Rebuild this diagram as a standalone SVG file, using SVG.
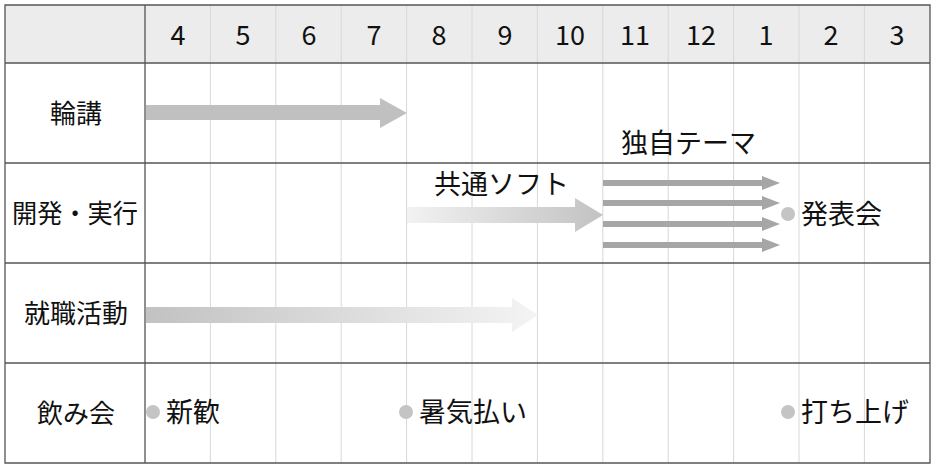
<svg xmlns="http://www.w3.org/2000/svg" width="934" height="468" viewBox="0 0 934 468">
<style>
text{font-family:"Noto Sans CJK JP","Noto Sans",sans-serif;font-size:27px;fill:#111}
.h{text-anchor:middle;font-size:27px}
.l{text-anchor:middle;font-size:26px}
.g{stroke:#d8d8d8;stroke-width:1}
.b{stroke:#555;stroke-width:1.3;fill:none}
.thin{fill:#a6a6a6}
.dot{fill:#c4c4c4}
</style>
<defs>
<linearGradient id="g1" x1="0" x2="1"><stop offset="0" stop-color="#f2f2f2"/><stop offset="1" stop-color="#c2c2c2"/></linearGradient>
<linearGradient id="g2" x1="0" x2="1"><stop offset="0" stop-color="#c2c2c2"/><stop offset="1" stop-color="#f4f4f4"/></linearGradient>
</defs>
<rect x="5" y="5" width="925" height="58" fill="#ececec"/>
<g id="grid">
<path class="g" d="M210.4 5V463M275.8 5V463M341.2 5V463M406.6 5V463M472 5V463M537.4 5V463M602.8 5V463M668.2 5V463M733.6 5V463M799 5V463M864.4 5V463"/>
<path class="b" d="M5 5H930V463H5Z M145 5V463 M5 63H930 M5 163H930 M5 263H930 M5 363H930"/>
</g>
<g id="header">
<text class="h" x="178" y="45">4</text><text class="h" x="243" y="45">5</text><text class="h" x="309" y="45">6</text><text class="h" x="374" y="45">7</text><text class="h" x="439" y="45">8</text><text class="h" x="505" y="45">9</text><text class="h" x="570" y="45">10</text><text class="h" x="635" y="45">11</text><text class="h" x="701" y="45">12</text><text class="h" x="766" y="45">1</text><text class="h" x="831" y="45">2</text><text class="h" x="897" y="45">3</text>
</g>
<g id="rowlabels">
<text class="l" x="76" y="123">輪講</text>
<text class="l" x="75" y="223" textLength="126" lengthAdjust="spacingAndGlyphs">開発・実行</text>
<text class="l" x="76" y="323">就職活動</text>
<text class="l" x="76" y="423">飲み会</text>
</g>
<g id="connectors">
<polygon fill="#c0c0c0" points="146,105 380,105 380,98 407,113 380,128 380,120 146,120"/>
<polygon fill="url(#g1)" points="407,207 575,207 575,198 603,215 575,232 575,223 407,223"/>
<polygon fill="url(#g2)" points="146,307 512,307 512,298 538,315 512,332 512,323 146,323"/>
<polygon class="thin" points="603,180 762,180 762,176 780,183 762,190 762,186 603,186"/>
<polygon class="thin" points="603,200 762,200 762,196 780,203 762,210 762,206 603,206"/>
<polygon class="thin" points="603,221 762,221 762,217 780,224 762,231 762,227 603,227"/>
<polygon class="thin" points="603,242 762,242 762,238 780,245 762,252 762,248 603,248"/>
</g>
<g id="labels">
<text x="621" y="153">独自テーマ</text>
<text x="434" y="194">共通ソフト</text>
<circle class="dot" cx="788" cy="214" r="7"/><text x="801" y="224">発表会</text>
<circle class="dot" cx="153" cy="412" r="7"/><text x="166" y="422">新歓</text>
<circle class="dot" cx="406" cy="412" r="7"/><text x="419" y="422">暑気払い</text>
<circle class="dot" cx="788" cy="412" r="7"/><text x="801" y="422">打ち上げ</text>
</g>
</svg>
